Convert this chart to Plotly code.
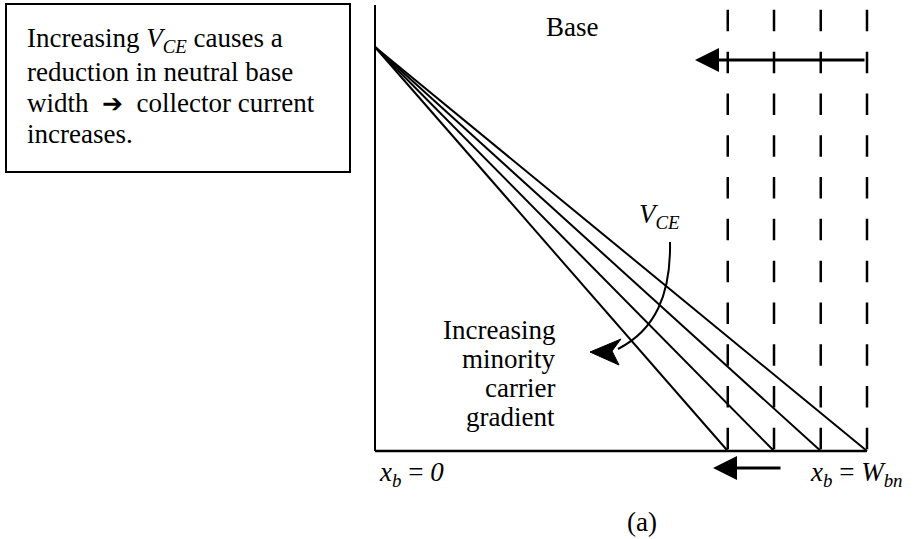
import plotly.graph_objects as go

# neutral base widths, normalised to W_bn (largest one = low V_CE)
base_widths = [0.717, 0.811, 0.906, 1.0]
n_at_emitter = 1.0          # excess minority carrier density at x_b = 0
dash_top = 1.092            # top of the dashed depletion-edge lines
axis_top = 1.104

NB = "\u00a0"
box_lines = [
    "Increasing <i>V</i><sub><i>CE</i></sub> causes a",
    "reduction in neutral base",
    "width" + NB * 2 + "<span style='font-size:25px'>\u2794</span>" + NB * 2 + "collector current",
    "increases.",
]
gradient_lines = ["Increasing", "minority", "carrier", "gradient"]

W, H = 915, 539
# pixel frame: x_b = 0 sits at px 375, W_bn at px 867; n=0 at py 451, n=1 at py 47
X0, XS = 375, 492
Y0, YS = 451, 404


def dx(px):
    return (px - X0) / XS


def dy(py):
    return (Y0 - py) / YS


def pp(px, py):
    return px / W, 1 - py / H


FONT = dict(family="Liberation Serif", size=27, color="black")

fig = go.Figure()

# minority carrier profiles
for w in base_widths:
    fig.add_trace(go.Scatter(x=[0, w], y=[n_at_emitter, 0], mode="lines",
                             line=dict(color="black", width=2), hoverinfo="skip"))

# dashed edges of the neutral base
for w in base_widths:
    fig.add_trace(go.Scatter(x=[w, w], y=[dash_top, 0], mode="lines",
                             line=dict(color="black", width=2.5, dash="21.5px,20.3px"),
                             hoverinfo="skip"))

# axes
fig.add_trace(go.Scatter(x=[0, 0], y=[axis_top, 0], mode="lines",
                         line=dict(color="black", width=2), hoverinfo="skip"))
fig.add_trace(go.Scatter(x=[0, max(base_widths)], y=[0, 0], mode="lines",
                         line=dict(color="black", width=2.5), hoverinfo="skip"))

shapes = []
# text box
bx0, by0 = pp(6, 4)
bx1, by1 = pp(350, 172)
shapes.append(dict(type="rect", xref="paper", yref="paper", x0=bx0, y0=by1, x1=bx1, y1=by0,
                   line=dict(color="black", width=2), fillcolor="rgba(0,0,0,0)"))

# curved V_CE arrow
pts = [(670, 242), (671, 295), (655, 330), (618, 349)]
path = "M {} {} C {} {}, {} {}, {} {}".format(*[v for p in pts for v in (dx(p[0]), dy(p[1]))])
shapes.append(dict(type="path", xref="x", yref="y", path=path,
                   line=dict(color="black", width=2)))
head = [(590, 352), (621, 339), (612, 351), (619, 365)]
hpath = "M {} {} L {} {} L {} {} L {} {} Z".format(*[v for p in head for v in (dx(p[0]), dy(p[1]))])
shapes.append(dict(type="path", xref="x", yref="y", path=hpath,
                   line=dict(color="black", width=1), fillcolor="black"))

annotations = []
for i, t in enumerate(box_lines):
    x, y = pp(25, 40 + 31.5 * i)
    annotations.append(dict(x=x, y=y, xref="paper", yref="paper", text=t, showarrow=False,
                            xanchor="left", yanchor="middle", font=FONT))

for i, t in enumerate(gradient_lines):
    x, y = pp(557, 330 + 29 * i)
    annotations.append(dict(x=x, y=y, xref="paper", yref="paper", text=t, showarrow=False,
                            xanchor="right", yanchor="middle", font=FONT, align="right"))

for text, px, py, anc in [
    ("Base", 572, 27, "center"),
    ("(a)", 642, 522, "center"),
    ("<i>V</i><sub><i>CE</i></sub>", 637, 216, "left"),
    ("<i>x</i><sub><i>b</i></sub> = <i>0</i>", 377, 474, "left"),
    ("<i>x</i><sub><i>b</i></sub> = <i>W</i><sub><i>bn</i></sub>", 808, 474, "left"),
]:
    x, y = pp(px, py)
    annotations.append(dict(x=x, y=y, xref="paper", yref="paper", text=text, showarrow=False,
                            xanchor=anc, yanchor="middle", font=FONT))

# straight arrows: base width shrinking
annotations.append(dict(x=dx(695), y=dy(60), ax=dx(866), ay=dy(60), xref="x", yref="y",
                        axref="x", ayref="y", text="", showarrow=True, arrowhead=2,
                        arrowsize=1.6, arrowwidth=3, arrowcolor="black"))
annotations.append(dict(x=dx(713), y=dy(468), ax=dx(782), ay=dy(468), xref="x", yref="y",
                        axref="x", ayref="y", text="", showarrow=True, arrowhead=2,
                        arrowsize=1.6, arrowwidth=3, arrowcolor="black"))

fig.update_layout(
    width=W, height=H, margin=dict(l=0, r=0, t=0, b=0),
    showlegend=False, plot_bgcolor="white", paper_bgcolor="white",
    xaxis=dict(range=[dx(0), dx(W)], visible=False, fixedrange=True),
    yaxis=dict(range=[dy(H), dy(0)], visible=False, fixedrange=True),
    shapes=shapes, annotations=annotations,
)

fig.write_html("out.html", config={"displayModeBar": False},
               post_script="document.body.style.margin = '0';")
